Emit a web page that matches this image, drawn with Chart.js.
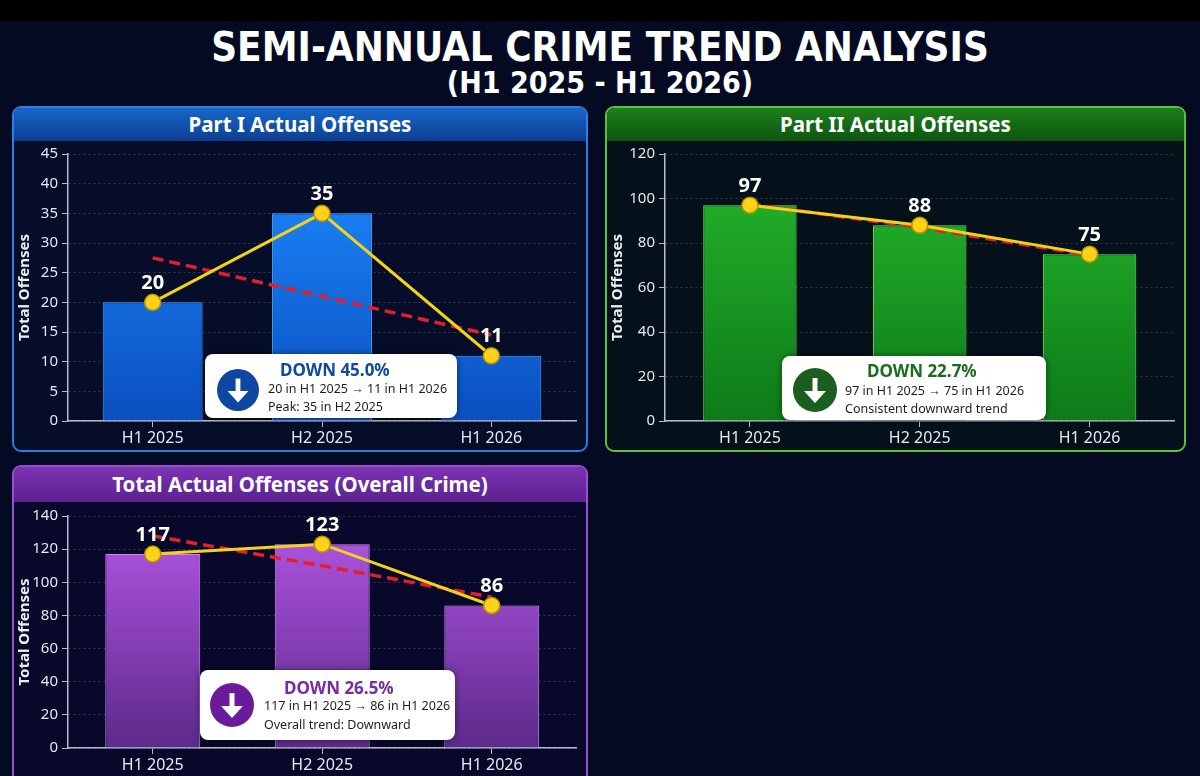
<!DOCTYPE html>
<html>
<head>
<meta charset="utf-8">
<script src="https://cdn.jsdelivr.net/npm/chart.js@4.4.1/dist/chart.umd.min.js"></script>
<style>
html, body { margin: 0; padding: 0; }
body { width: 1200px; height: 776px; overflow: hidden; background: #030a22; position: relative; font-family: "Noto Sans", sans-serif; }
#band { position: absolute; left: 0; top: 0; width: 1200px; height: 21px; background: #000; }
#title { position: absolute; left: 0; top: 24px; width: 1200px; text-align: center; color: #fff; font: bold 40px "DejaVu Sans Condensed", sans-serif; line-height: 46px; }
#subtitle { position: absolute; left: 0; top: 66px; width: 1200px; text-align: center; color: #fff; font: bold 30px "DejaVu Sans Condensed", sans-serif; line-height: 34px; }
.panel { position: absolute; border: 2px solid; border-radius: 9px; box-sizing: border-box; overflow: hidden; }
.head { height: 33px; line-height: 33px; text-align: center; color: #fff; font-weight: bold; font-size: 20.5px; }
canvas { position: absolute; }
.note { position: absolute; background: #fff; border-radius: 8px; box-shadow: 0 0 6px rgba(0,0,0,0.5); z-index: 5; }
.note svg { position: absolute; }
.note .t { position: absolute; font-weight: bold; font-size: 17px; line-height: 20px; white-space: nowrap; }
.note .l { position: absolute; font-size: 12.5px; line-height: 16px; color: #1e1e1e; white-space: nowrap; }
</style>
</head>
<body>
<div id="band"></div>
<div id="title">SEMI-ANNUAL CRIME TREND ANALYSIS</div>
<div id="subtitle">(H1 2025 - H1 2026)</div>

<div class="panel" style="left:12px;top:106px;width:576px;height:346px;border-color:#2f7de0;background:#050d28;">
  <div class="head" style="background:linear-gradient(#1766cc,#0d3f90);">Part I Actual Offenses</div>
</div>
<div class="panel" style="left:605px;top:106px;width:581px;height:346px;border-color:#58c23c;background:#04101a;">
  <div class="head" style="background:linear-gradient(#1f7f1c,#0d5510);">Part II Actual Offenses</div>
</div>
<div class="panel" style="left:12px;top:465px;width:576px;height:330px;border-color:#9a4ed8;background:#07082a;">
  <div class="head" style="background:linear-gradient(#7d33b4,#5a228f);height:35px;line-height:35px;">Total Actual Offenses (Overall Crime)</div>
</div>

<canvas id="c1" width="572" height="309" style="left:14px;top:141px;"></canvas>
<canvas id="c2" width="577" height="309" style="left:607px;top:141px;"></canvas>
<canvas id="c3" width="572" height="276" style="left:14px;top:501px;"></canvas>

<div class="note" style="left:205px;top:354px;width:252px;height:64px;">
  <svg width="42" height="42" viewBox="0 0 44 44" style="left:12px;top:15px;"><circle cx="22" cy="22" r="22" fill="#0d47a1"/><rect x="19.5" y="10" width="5" height="15" fill="#fff"/><polygon points="11,23 33,23 22,35" fill="#fff"/></svg>
  <div class="t" style="left:75px;top:6px;color:#0d4aa0;">DOWN 45.0%</div>
  <div class="l" style="left:63px;top:27px;">20 in H1 2025 → 11 in H1 2026</div>
  <div class="l" style="left:63px;top:45px;">Peak: 35 in H2 2025</div>
</div>
<div class="note" style="left:782px;top:356px;width:264px;height:64px;">
  <svg width="44" height="44" viewBox="0 0 44 44" style="left:11px;top:12px;"><circle cx="22" cy="22" r="22" fill="#1b5e20"/><rect x="19.5" y="10" width="5" height="15" fill="#fff"/><polygon points="11,23 33,23 22,35" fill="#fff"/></svg>
  <div class="t" style="left:85px;top:5px;color:#1b6b1f;">DOWN 22.7%</div>
  <div class="l" style="left:63px;top:27px;">97 in H1 2025 → 75 in H1 2026</div>
  <div class="l" style="left:63px;top:45px;">Consistent downward trend</div>
</div>
<div class="note" style="left:200px;top:670px;width:255px;height:70px;">
  <svg width="44" height="44" viewBox="0 0 44 44" style="left:10px;top:13px;"><circle cx="22" cy="22" r="22" fill="#6a1b9a"/><rect x="19.5" y="10" width="5" height="15" fill="#fff"/><polygon points="11,23 33,23 22,35" fill="#fff"/></svg>
  <div class="t" style="left:84px;top:8px;color:#7a2aa0;">DOWN 26.5%</div>
  <div class="l" style="left:64px;top:28px;">117 in H1 2025 → 86 in H1 2026</div>
  <div class="l" style="left:64px;top:47px;">Overall trend: Downward</div>
</div>

<script>
// periods on the x axis
var periods = ["H1 2025", "H2 2025", "H1 2026"];

// Part I
var part1Values = [20, 35, 11];
var part1Trend = [27.5, 21, 14.5];
// Part II
var part2Values = [97, 88, 75];
var part2Trend = [97.5, 87, 74.5];
// Total
var totalValues = [117, 123, 86];
var totalTrend = [128, 110, 91];

Chart.defaults.font.family = "'Noto Sans', sans-serif";
Chart.defaults.animation = false;

// value text above the yellow points
var valueLabels = {
    id: "valueLabels",
    afterDatasetsDraw: function(chart) {
        var ctx = chart.ctx;
        var meta = chart.getDatasetMeta(1);
        var vals = chart.data.datasets[1].data;
        ctx.save();
        ctx.fillStyle = "#ffffff";
        ctx.font = "bold 20px 'Noto Sans', sans-serif";
        ctx.textAlign = "center";
        ctx.textBaseline = "bottom";
        meta.data.forEach(function(pt, i) {
            ctx.fillText(vals[i], pt.x, pt.y - 9);
        });
        ctx.restore();
    }
};

function makeChart(id, values, trend, opts) {
    var grad = function(c) {
        var area = c.chart.chartArea;
        if (!area) return opts.top;
        var g = c.chart.ctx.createLinearGradient(0, area.top, 0, area.bottom);
        g.addColorStop(0, opts.top);
        g.addColorStop(1, opts.bottom);
        return g;
    };
    return new Chart(document.getElementById(id), {
        type: "bar",
        data: {
            labels: periods,
            datasets: [{
                type: "bar",
                data: values,
                backgroundColor: grad,
                borderColor: opts.border,
                borderWidth: 1,
                barPercentage: opts.barPct,
                categoryPercentage: 1,
                order: 3
            }, {
                type: "line",
                data: values,
                borderColor: "#f2d21b",
                borderWidth: 3,
                pointRadius: 8,
                pointBackgroundColor: "#ffd21a",
                pointBorderColor: "#b89400",
                pointBorderWidth: 1.5,
                tension: 0,
                order: 1
            }, {
                type: "line",
                data: trend,
                borderColor: "#e3202a",
                borderWidth: 3.5,
                borderDash: [11, 6],
                pointRadius: 0,
                tension: 0,
                order: 2
            }]
        },
        options: {
            responsive: false,
            layout: { padding: { top: opts.padTop, right: opts.padRight, left: 0, bottom: 0 } },
            plugins: { legend: { display: false }, tooltip: { enabled: false } },
            scales: {
                x: {
                    afterFit: function(s) { s.height = 29; },
                    grid: { drawOnChartArea: false, tickLength: 6, tickColor: "#b8bcc8", offset: false },
                    border: { color: "#b8bcc8", width: 1.5 },
                    ticks: { color: "#e6e8ee", font: { size: 16 }, padding: 2 }
                },
                y: {
                    min: 0,
                    max: opts.yMax,
                    afterFit: function(s) { s.width = opts.yWidth; },
                    ticks: { stepSize: opts.step, color: "#e6e8ee", font: { size: 15 }, padding: 4 },
                    grid: { color: "rgba(170,180,200,0.28)", tickLength: 6, tickColor: "#b8bcc8", tickBorderDash: [] },
                    border: { color: "#b8bcc8", width: 1.5, dash: [2, 3] },
                    title: { display: true, text: "Total Offenses", color: "#eceef2", font: { size: 15, weight: "bold" }, padding: { top: 2, bottom: 0 } }
                }
            }
        },
        plugins: [valueLabels]
    });
}

makeChart("c1", part1Values, part1Trend, {
    top: "#1d8bff", bottom: "#0a4fc0", border: "#4aa2ff", barPct: 0.59,
    yMax: 45, step: 5, yWidth: 54, padTop: 11, padRight: 10
});
makeChart("c2", part2Values, part2Trend, {
    top: "#25b82c", bottom: "#0e7a19", border: "#6ae06a", barPct: 0.55,
    yMax: 120, step: 20, yWidth: 58, padTop: 12, padRight: 9
});
makeChart("c3", totalValues, totalTrend, {
    top: "#b457e6", bottom: "#5c2a8a", border: "#c98af0", barPct: 0.56,
    yMax: 140, step: 20, yWidth: 54, padTop: 15, padRight: 8
});
</script>
</body>
</html>
